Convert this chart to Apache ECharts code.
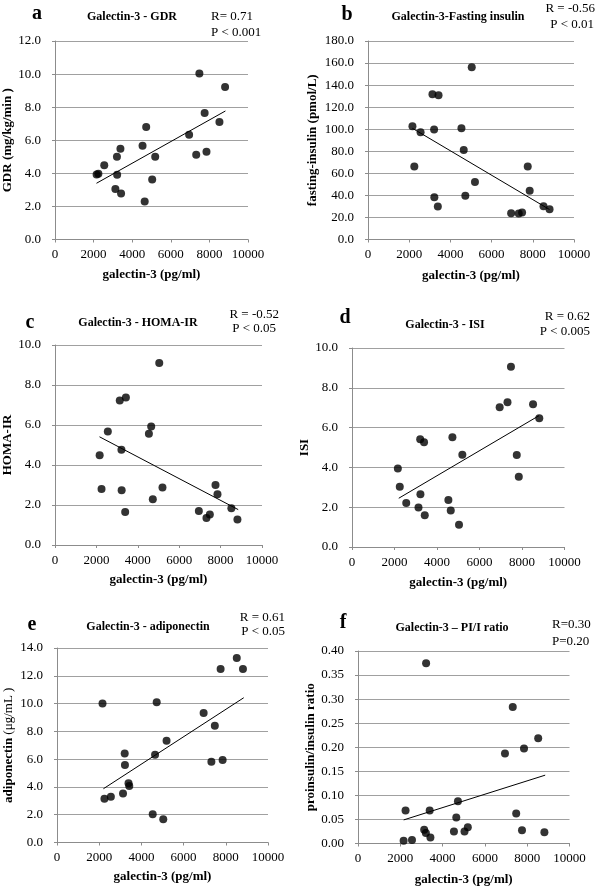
<!DOCTYPE html>
<html>
<head>
<meta charset="utf-8">
<script src="https://cdn.jsdelivr.net/npm/echarts@6/dist/echarts.min.js"></script>
<style>html,body{margin:0;padding:0;background:#fff;}#c{width:600px;height:887px;}</style>
</head>
<body>
<div id="c"></div>
<script>
// galectin-3 (pg/ml) for each subject, sorted
const galectin = [2157,2248,2552,3129,3209,3220,3390,3424,4536,4647,4725,5036,5192,6949,7317,7480,7754,7849,8520,8813];
const gdr = [3.93,3.97,4.49,3.06,5.01,3.91,5.48,2.78,5.66,2.30,6.80,3.62,5.01,6.34,5.13,10.03,7.65,5.31,7.11,9.22];
const insulin = [102.7,66.1,97.2,131.7,99.7,38.4,29.9,130.8,100.9,81.2,39.6,156.1,52.2,23.9,23.6,24.5,66.1,44.1,30.2,27.5];
const homa = [4.49,2.80,5.68,7.23,4.76,2.74,1.65,7.38,5.56,5.93,2.29,9.10,2.87,1.70,1.35,1.52,3.00,2.54,1.84,1.27];
const isi = [3.95,3.03,2.21,1.98,5.41,2.65,5.26,1.59,2.36,1.83,5.51,1.12,4.64,7.02,7.27,9.06,4.62,3.53,7.17,6.47];
const adipo = [10.01,3.15,3.29,3.53,6.41,5.57,4.27,4.06,2.04,6.32,10.09,1.68,7.32,9.32,5.81,8.41,12.49,5.93,13.28,12.49];
const piRatio = [0.0055,0.0685,0.0075,0.0288,0.0219,0.3747,0.0685,0.0123,0.0247,0.0541,0.0877,0.0247,0.0336,0.187,0.2836,0.0623,0.0274,0.1973,0.2185,0.0233];
// trend line end points [x, y]
const trendA = [[2150,3.40],[8830,7.77]];
const trendB = [[2150,100.9],[8810,27.2]];
const trendC = [[2150,5.41],[8850,1.77]];
const trendD = [[2200,2.45],[8800,6.60]];
const trendE = [[2200,3.87],[8850,10.42]];
const trendF = [[2160,0.049],[8850,0.142]];

const SERIF = '"Liberation Serif","Times New Roman",serif';
const panels = [
  {grid:{left:55,top:41,width:193,height:198.5}, y:gdr, trend:trendA, max:12, step:2, dec:1, yname:'GDR (mg/kg/min )', ygap:41, xgap:29},
  {grid:{left:368,top:41,width:206,height:198.5}, y:insulin, trend:trendB, max:180, step:20, dec:1, yname:'fasting-insulin (pmol/L)', ygap:49, xgap:30},
  {grid:{left:55,top:345,width:207,height:200}, y:homa, trend:trendC, max:10, step:2, dec:1, yname:'HOMA-IR', ygap:41, xgap:28.5},
  {grid:{left:352,top:348,width:212.5,height:199}, y:isi, trend:trendD, max:10, step:2, dec:1, yname:'ISI', ygap:40, xgap:29.5},
  {grid:{left:57,top:648,width:211,height:194.5}, y:adipo, trend:trendE, max:14, step:2, dec:1, yname:'{b|adiponectin} {n|(μg/mL )}', ygap:42, xgap:28},
  {grid:{left:358,top:651,width:211.5,height:194.5}, y:piRatio, trend:trendF, max:0.40, step:0.05, dec:2, yname:'proinsulin/insulin ratio', ygap:41, xgap:29.5}
];

const grids=[], xAxes=[], yAxes=[], series=[];
panels.forEach((p,i)=>{
  grids.push(p.grid);
  xAxes.push({
    type:'value', gridIndex:i, min:0, max:10000, interval:2000,
    name:'galectin-3 (pg/ml)', nameLocation:'middle', nameGap:p.xgap,
    nameTextStyle:{fontFamily:SERIF, fontSize:13, fontWeight:'bold', color:'#000'},
    axisLine:{show:true, lineStyle:{color:'#8c8c8c', width:1}},
    axisTick:{show:true, length:3, lineStyle:{color:'#8c8c8c'}},
    axisLabel:{fontFamily:SERIF, fontSize:13, color:'#000', margin:9, formatter:v=>String(v)},
    splitLine:{show:false}
  });
  yAxes.push({
    type:'value', gridIndex:i, min:0, max:p.max, interval:p.step,
    name:p.yname, nameLocation:'middle', nameGap:p.ygap,
    nameTextStyle:{fontFamily:SERIF, fontSize:13, fontWeight:'bold', color:'#000',
      rich:{b:{fontFamily:SERIF,fontSize:13,fontWeight:'bold',color:'#000'}, n:{fontFamily:SERIF,fontSize:13,fontWeight:'normal',color:'#000'}}},
    axisLine:{show:true, lineStyle:{color:'#8c8c8c', width:1}},
    axisTick:{show:true, length:3, lineStyle:{color:'#8c8c8c'}},
    axisLabel:{fontFamily:SERIF, fontSize:13, color:'#000', margin:14, formatter:v=>v.toFixed(p.dec)},
    splitLine:{show:true, lineStyle:{color:'#a0a0a0', width:1}}
  });
  series.push({
    type:'scatter', xAxisIndex:i, yAxisIndex:i, symbol:'circle', symbolSize:8,
    itemStyle:{color:'#000'}, data:galectin.map((g,k)=>[g,p.y[k]]), silent:true
  });
  series.push({
    type:'line', xAxisIndex:i, yAxisIndex:i, data:p.trend, symbol:'none',
    lineStyle:{color:'#000', width:1}, silent:true, z:1
  });
});

function txt(x,y,text,size,bold,align){
  return {type:'text', x:x, y:y, style:{text:text, font:(bold?'bold ':'')+size+'px '+SERIF, fill:'#000', textAlign:align||'left', textVerticalAlign:'middle'}};
}
const graphics = [
  txt(37,14,'a',20,true,'center'), txt(132,17,'Galectin-3 - GDR',12,true,'center'),
  txt(211,17,'R= 0.71',13,false,'left'), txt(211,33,'P < 0.001',13,false,'left'),
  txt(347,15,'b',20,true,'center'), txt(458,17,'Galectin-3-Fasting insulin',12,true,'center'),
  txt(595,9,'R = -0.56',13,false,'right'), txt(594,25,'P < 0.01',13,false,'right'),
  txt(30,323,'c',20,true,'center'), txt(138,323,'Galectin-3 - HOMA-IR',12,true,'center'),
  txt(279,315,'R = -0.52',13,false,'right'), txt(276,329,'P < 0.05',13,false,'right'),
  txt(345,318,'d',20,true,'center'), txt(445,325,'Galectin-3 - ISI',12,true,'center'),
  txt(590,317,'R = 0.62',13,false,'right'), txt(590,332,'P < 0.005',13,false,'right'),
  txt(32,625,'e',20,true,'center'), txt(148,627,'Galectin-3 - adiponectin',12,true,'center'),
  txt(285,618,'R = 0.61',13,false,'right'), txt(285,632,'P < 0.05',13,false,'right'),
  txt(343,623,'f',20,true,'center'), txt(452,628,'Galectin-3 – PI/I ratio',12,true,'center'),
  txt(552,625,'R=0.30',13,false,'left'), txt(552,642,'P=0.20',13,false,'left')
];

const chart = echarts.init(document.getElementById('c'));
chart.setOption({
  animation:false,
  backgroundColor:'#fff',
  grid:grids, xAxis:xAxes, yAxis:yAxes, series:series, graphic:graphics
});
</script>
</body>
</html>
